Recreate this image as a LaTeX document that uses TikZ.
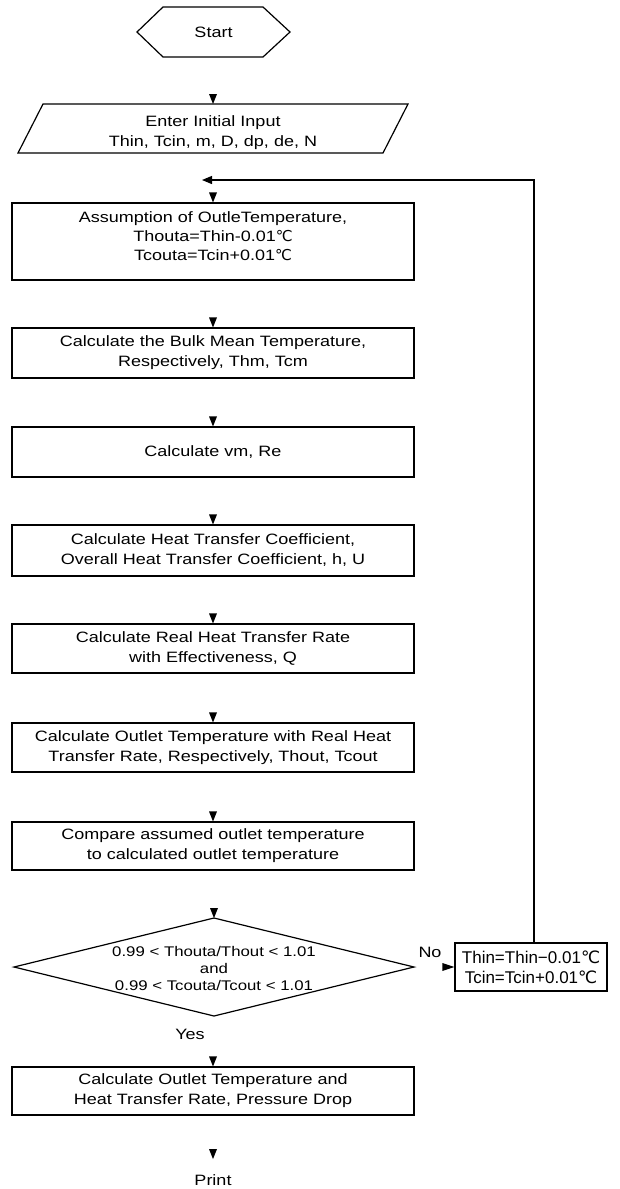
\documentclass[tikz,border=0pt]{standalone}
\usepackage{fontspec}
\setmainfont{Liberation Sans}[FakeStretch=1.2]
\newfontfamily\plainf{Liberation Sans}
\newfontfamily\symf{DejaVu Sans}
\usetikzlibrary{calc,arrows.meta}
\newcommand{\degc}{{\symf ℃}}
\newcommand{\headin}[1]{\fill ($(#1.north)+(-4,-10)$) -- ($(#1.north)+(4,-10)$) -- (#1.north) -- cycle;}
\begin{document}
\begin{tikzpicture}[x=0.75pt,y=-0.75pt,line width=0.9pt,
  every node/.style={font=\fontsize{11.25}{15}\selectfont, align=center},
  box/.style={draw, minimum width=301.5pt, inner sep=0pt},
  dtext/.style={font=\fontsize{10.5}{12.75}\selectfont},
  ttext/.style={font=\plainf\fontsize{12.75}{15}\selectfont},
  loop/.style={-{Triangle[length=7.5pt,width=6pt]}}]
\useasboundingbox (0,0) rectangle (620,1189);

% Start
\node (start) at (213.5,32) {Start};
\draw ($(start)+(-76.5,0)$) -- ($(start)+(-50.5,-25)$) -- ($(start)+(49.5,-25)$) -- ($(start)+(76.5,0)$) -- ($(start)+(49.5,25)$) -- ($(start)+(-50.5,25)$) -- cycle;

% Input
\coordinate (inp) at (213,128.5);
\node (inptext) at (213,133) {Enter Initial Input\\Thin, Tcin, m, D, dp, de, N};
\draw ($(inp)+(-170,-24.5)$) -- ($(inp)+(195,-24.5)$) -- ($(inp)+(170,24.5)$) -- ($(inp)+(-195,24.5)$) -- cycle;
\coordinate (inptop) at ($(inp)+(0,-24.5)$);
\fill ($(inptop)+(-4,-10)$) -- ($(inptop)+(4,-10)$) -- (inptop) -- cycle;

% Boxes
\node[box, minimum height=57.75pt] (b1) at (213,241.5) {};
\node[font=\fontsize{11.25}{14.25}\selectfont] (b1t) at (213,236) {Assumption of OutleTemperature,\\Thouta=Thin-0.01\degc\\Tcouta=Tcin+0.01\degc};
\node[box, minimum height=37.5pt] (b2) at (213,353) {Calculate the Bulk Mean Temperature,\\Respectively, Thm, Tcm};
\node[box, minimum height=37.5pt] (b3) at (213,452) {Calculate vm, Re};
\node[box, minimum height=38.25pt] (b4) at (213,550.5) {Calculate Heat Transfer Coefficient,\\Overall Heat Transfer Coefficient, h, U};
\node[box, minimum height=36.75pt] (b5) at (213,648.5) {Calculate Real Heat Transfer Rate\\with Effectiveness, Q};
\node[box, minimum height=36.75pt] (b6) at (213,747.5) {Calculate Outlet Temperature with Real Heat\\Transfer Rate, Respectively, Thout, Tcout};
\node[box, minimum height=36pt] (b7) at (213,846) {Compare assumed outlet temperature\\to calculated outlet temperature};

% Decision
\node[dtext] (dec) at (214,968) {0.99 {\textless} Thouta/Thout {\textless} 1.01\\and\\0.99 {\textless} Tcouta/Tcout {\textless} 1.01};
\coordinate (dtop) at (214,918);
\draw (dtop) -- (414,967) -- (214,1016) -- (14,967) -- cycle;
\fill ($(dtop)+(-4,-10)$) -- ($(dtop)+(4,-10)$) -- (dtop) -- cycle;

\node[box, minimum height=36pt] (b8) at (213,1091) {Calculate Outlet Temperature and\\Heat Transfer Rate, Pressure Drop};
\node (yes) at (190,1034) {Yes};

% Print
\node (print) at (213,1180) {Print};
\coordinate (ptip) at (213,1159);
\fill ($(ptip)+(-4,-10)$) -- ($(ptip)+(4,-10)$) -- (ptip) -- cycle;

% No branch
\node[draw, ttext, minimum width=114pt, minimum height=36pt, inner sep=0pt] (thin) at (531,967) {Thin=Thin{\textminus}0.01\degc\\Tcin=Tcin+0.01\degc};
\node (no) at (430,952) {No};
\fill ($(thin.west)+(-12,-4)$) -- ($(thin.west)+(-12,4)$) -- (thin.west) -- cycle;

\coordinate (lcorner) at (534,180);
\coordinate (lend) at (202,180);
\draw[loop] (thin.north -| lcorner) -- (lcorner) -- (lend);

\headin{b1}
\headin{b2}
\headin{b3}
\headin{b4}
\headin{b5}
\headin{b6}
\headin{b7}
\headin{b8}
\end{tikzpicture}
\end{document}
